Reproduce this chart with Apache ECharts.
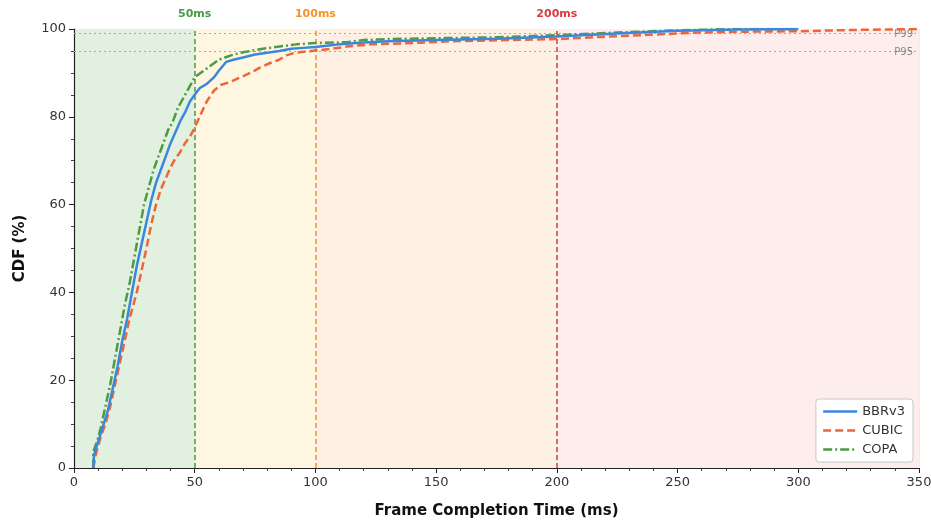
<!DOCTYPE html>
<html>
<head>
<meta charset="utf-8">
<script src="https://cdn.jsdelivr.net/npm/echarts@6/dist/echarts.min.js"></script>
<style>
html,body{margin:0;padding:0;background:#fff;}
#chart{width:931px;height:521px;}
</style>
</head>
<body>
<div id="chart"></div>
<script>
// Data: [time ms, CDF %]
const seriesNames = ['BBRv3', 'CUBIC', 'COPA'];
const bbrv3 = [[8,0],[8.3,3],[10,6],[12,9.5],[14,13],[16,18],[18,23],[20,29],[22,34],[24,40],[26,46],[28,51],[30,56],[32,61],[34,65],[36,68],[38,71],[40,74],[42,76.5],[44,79],[46,81],[48,83.5],[50,85],[52,86.5],[55,87.5],[58,89],[60,90.5],[63,92.5],[66,93],[70,93.5],[75,94.2],[80,94.6],[85,95],[90,95.5],[95,95.7],[100,95.9],[110,96.5],[120,96.9],[130,97.2],[150,97.5],[175,97.8],[200,98.3],[225,99],[250,99.6],[275,99.9],[300,100]];
const cubic = [[8,0],[9,3],[11,7],[13,10],[15,14],[17,19],[19,24],[21,29],[23,34],[26,40],[28,45],[30,50],[32,55.5],[34,60],[36,63.5],[38,66],[40,68.5],[42,70.5],[44,72],[46,74],[48,75.5],[50,77.5],[52,80],[55,83.5],[58,86],[61,87.3],[65,88],[69,89],[73,90],[77,91.2],[81,92.2],[85,93],[88,94],[91,94.5],[95,94.8],[100,95.1],[107,95.5],[113,96],[123,96.5],[140,96.8],[156,97.2],[180,97.5],[200,97.7],[218,98.2],[235,98.6],[259,99.2],[280,99.4],[300,99.5],[325,99.8],[350,100]];
const copa = [[8,0],[8,3.7],[9.5,6],[11,9],[13,14],[15,19],[17,25],[19,31],[21,37],[23,42],[25,48],[27,54],[29,60],[31,64],[33,68],[35,71],[37,74],[39,77],[41,79],[43,82],[45,84],[47,86],[50,89],[55,91],[60,93],[65,94],[70,94.7],[77,95.4],[85,96],[92,96.5],[100,96.8],[113,97],[120,97.5],[130,97.7],[150,97.9],[175,98.1],[200,98.6],[225,99.2],[250,99.7],[275,100],[300,100]];
const thresholds = [50, 100, 200];
const thresholdLabels = ['50ms', '100ms', '200ms'];
const zoneEdges = [0, 50, 100, 200, 350];
const percentiles = [99, 95];
const percentileLabels = ['P99', 'P95'];

const colors = ['#3b87db', '#f0643a', '#4e9a45'];
const thrColors = ['#4a9a45', '#f5932a', '#d93a3a'];
const zoneColors = ['#e2f0df', '#fef6e1', '#fef1e4', '#fdedec'];
const font = 'DejaVu Sans';

const chart = echarts.init(document.getElementById('chart'));

const zoneAreas = [];
for (let i = 0; i < zoneEdges.length - 1; i++) {
  zoneAreas.push([{xAxis: zoneEdges[i], itemStyle: {color: zoneColors[i]}}, {xAxis: zoneEdges[i+1]}]);
}
const vLines = thresholds.map((t, i) => ({
  xAxis: t,
  lineStyle: {color: thrColors[i], type: [5, 3], width: 1.5},
  label: {show: true, position: 'end', formatter: thresholdLabels[i], color: thrColors[i], fontWeight: 'bold', fontSize: 11, fontFamily: font, distance: 9}
}));
const hLines = percentiles.map((p, i) => ({
  yAxis: p,
  lineStyle: {color: '#aaaaaa', type: [2, 3], width: 1},
  label: {show: true, position: 'insideEndTop', formatter: percentileLabels[i], color: '#888', fontSize: 10, fontFamily: font, distance: -6, padding: [0, 12, 0, 0]}
}));

const data = [bbrv3, cubic, copa];
const lineTypes = ['solid', [8, 4], [9, 3, 2, 3]];
const series = data.map((d, i) => ({
  name: seriesNames[i],
  type: 'line',
  data: d,
  symbol: 'none',
  z: 5 + (i === 0 ? 2 : i === 1 ? 1 : 0),
  lineStyle: {color: colors[i], width: 2.5, type: lineTypes[i]},
  itemStyle: {color: colors[i]},
  animation: false
}));
series[0].markArea = {silent: true, data: zoneAreas, z: 0};
series[0].markLine = {silent: true, symbol: 'none', data: vLines.concat(hLines), animation: false};

chart.setOption({
  animation: false,
  textStyle: {fontFamily: font},
  grid: {left: 74, right: 12, top: 29, bottom: 53, outerBoundsMode: 'none', containLabel: false},
  legend: {
    orient: 'vertical', right: 18, bottom: 59,
    backgroundColor: '#fff', borderColor: '#c8c8c8', borderWidth: 1, borderRadius: 3,
    padding: [6, 8, 6, 6], itemGap: 6, itemWidth: 34, itemHeight: 12,
    textStyle: {fontSize: 13, color: '#333', fontFamily: font},
    data: seriesNames.map((n, i) => ({name: n, itemStyle: {opacity: 0}, lineStyle: {width: 2.5, color: colors[i], type: lineTypes[i]}}))
  },
  xAxis: {
    type: 'value', min: 0, max: 350, interval: 50,
    name: 'Frame Completion Time (ms)', nameLocation: 'middle', nameGap: 36,
    nameTextStyle: {fontSize: 15, fontWeight: 'bold', color: '#111', fontFamily: font},
    axisLine: {show: true, lineStyle: {color: '#222', width: 1.2}},
    axisTick: {show: true, length: 5, lineStyle: {color: '#222'}},
    minorTick: {show: true, splitNumber: 5, length: 3, lineStyle: {color: '#444'}},
    axisLabel: {fontSize: 13, color: '#333', margin: 8, fontFamily: font},
    splitLine: {show: true, lineStyle: {color: 'rgba(0,0,0,0.07)', width: 1}},
    minorSplitLine: {show: true, lineStyle: {color: 'rgba(0,0,0,0.035)', width: 1}}
  },
  yAxis: {
    type: 'value', min: 0, max: 100, interval: 20,
    name: 'CDF (%)', nameLocation: 'middle', nameGap: 46, nameRotate: 90,
    nameTextStyle: {fontSize: 15, fontWeight: 'bold', color: '#111', fontFamily: font},
    axisLine: {show: true, lineStyle: {color: '#222', width: 1.2}},
    axisTick: {show: true, length: 5, lineStyle: {color: '#222'}},
    minorTick: {show: true, splitNumber: 4, length: 3, lineStyle: {color: '#444'}},
    axisLabel: {fontSize: 13, color: '#333', margin: 8, fontFamily: font},
    splitLine: {show: true, lineStyle: {color: 'rgba(0,0,0,0.07)', width: 1}},
    minorSplitLine: {show: true, lineStyle: {color: 'rgba(0,0,0,0.035)', width: 1}}
  },
  series: series
});
</script>
</body>
</html>
